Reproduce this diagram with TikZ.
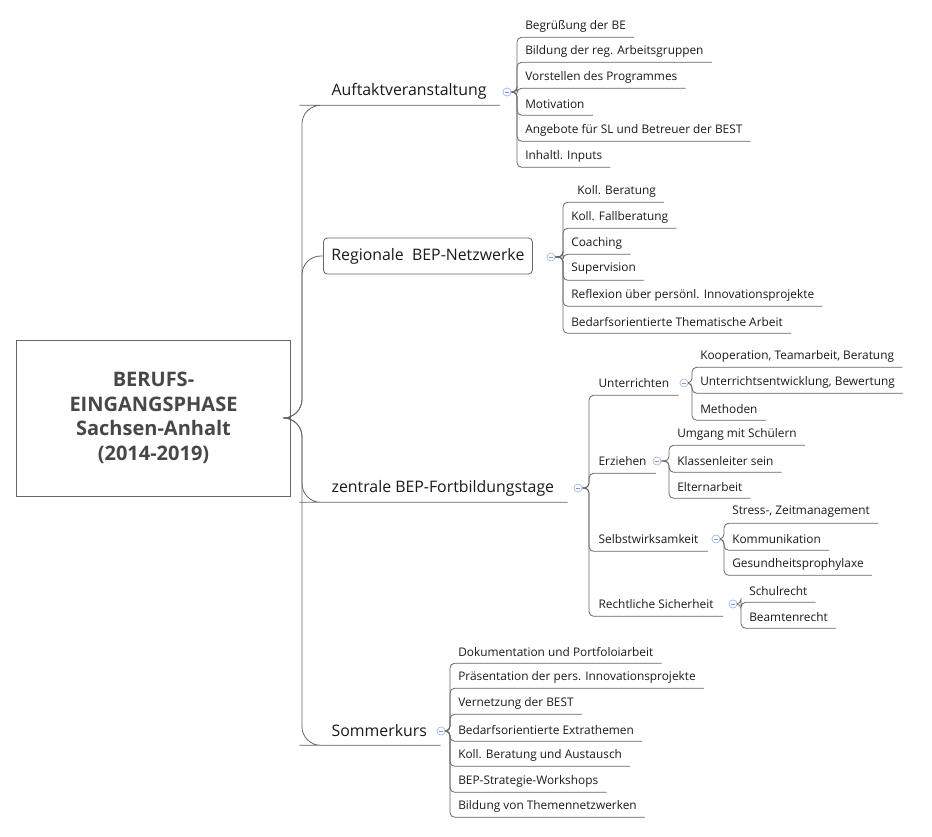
\documentclass[tikz,border=0pt]{standalone}
\usepackage{fontspec}
\setmainfont{Open Sans}
\usetikzlibrary{calc}
\definecolor{ln}{HTML}{666666}
\definecolor{tx}{HTML}{1A1A1A}
\definecolor{cb}{HTML}{9FB8DC}
\tikzset{
 kid/.style={font=\fontsize{8.9}{10}\selectfont, text=tx, inner xsep=6pt, inner ysep=0pt, minimum height=16.5pt, anchor=west},
 main/.style={font=\fontsize{11.9}{13}\selectfont, text=tx, inner xsep=10pt, inner ysep=0pt, minimum height=21pt, anchor=west},
 sub/.style={font=\fontsize{8.9}{10}\selectfont, text=tx, inner xsep=7pt, inner ysep=0pt, minimum height=18pt, anchor=west},
 coll/.style={circle, draw=cb, fill=white, inner sep=0pt, minimum size=6pt, path picture={\draw[cb!80!blue, line width=0.5pt] ($(path picture bounding box.west)+(1.5pt,0)$) -- ($(path picture bounding box.east)+(-1.5pt,0)$);}},
 con/.style={draw=ln, line width=0.6pt, rounded corners=3.5pt},
 mcon/.style={draw=ln, line width=0.6pt, rounded corners=14pt},
}
\newcommand\kid[5]{\node[kid] (#1) at (#3,#4) {#5};
 \draw[con] (#2) -| (#1.south west) -- (#1.south east);}
\newcommand\subt[5]{\node[sub] (#1) at (#3,#4) {#5};
 \draw[con] (#2) -| (#1.south west) -- (#1.south east);}
\begin{document}
\begin{tikzpicture}[x=0.75pt,y=-0.75pt]
\useasboundingbox (0,0) rectangle (932,836);
\node[draw=ln, line width=0.6pt, minimum width=205pt, minimum height=117pt, align=center, text=black!72, font=\fontsize{15}{18.5}\selectfont\bfseries] (c) at (153.5,418) {BERUFS-\\EINGANGSPHASE\\Sachsen-Anhalt\\(2014-2019)};
\coordinate (hub) at (302,418);
% main topics
\node[main] (m1) at (318,91) {Auftaktveranstaltung};
\node[draw=ln, rounded corners=3pt, line width=0.6pt, font=\fontsize{11.9}{13}\selectfont, text=tx, inner xsep=6pt, minimum height=27pt, anchor=west] (m2) at (323,256) {Regionale\ \ BEP-Netzwerke};
\node[main] (m3) at (318,488) {zentrale BEP-Fortbildungstage};
\node[main] (m4) at (318,731) {Sommerkurs};
\draw[mcon] (c.east) -- (hub) |- (m1.south west) -- (m1.south east);
\draw[mcon] (c.east) -- (hub) |- (m2.west);
\draw[mcon] (c.east) -- (hub) |- (m3.south west) -- (m3.south east);
\draw[mcon] (c.east) -- (hub) |- (m4.south west) -- (m4.south east);
% Auftakt
\node[coll] (p1) at (507,92) {};
\kid{a1}{p1}{517}{26}{Begrüßung der BE}
\kid{a2}{p1}{517}{51}{Bildung der reg. Arbeitsgruppen}
\kid{a3}{p1}{517}{77}{Vorstellen des Programmes}
\kid{a4}{p1}{517}{104}{Motivation}
\kid{a5}{p1}{517}{130}{Angebote für SL und Betreuer der BEST}
\kid{a6}{p1}{517}{156}{Inhaltl. Inputs}
\node[coll] at (507,92) {};
% Regionale
\node[coll] (p2) at (551,257) {};
\kid{b1}{p2}{563}{191}{\ \ Koll. Beratung}
\kid{b2}{p2}{563}{217}{Koll. Fallberatung}
\kid{b3}{p2}{563}{243}{Coaching}
\kid{b4}{p2}{563}{269}{Supervision}
\kid{b5}{p2}{563}{295}{Reflexion über persönl. Innovationsprojekte}
\kid{b6}{p2}{563}{322}{Bedarfsorientierte Thematische Arbeit}
\node[coll] at (551,257) {};
% Zentrale
\node[coll] (p3) at (578,488) {};
\subt{s1}{p3}{589}{383}{Unterrichten}
\subt{s2}{p3}{589}{461}{Erziehen}
\subt{s3}{p3}{589}{539}{Selbstwirksamkeit}
\subt{s4}{p3}{589}{604}{Rechtliche Sicherheit}
\node[coll] at (578,488) {};
\node[coll] (q1) at (684,383) {};
\kid{u1}{q1}{692}{356}{Kooperation, Teamarbeit, Beratung}
\kid{u2}{q1}{692}{382}{Unterrichtsentwicklung, Bewertung}
\kid{u3}{q1}{692}{409}{Methoden}
\node[coll] at (684,383) {};
\node[coll] (q2) at (657,461) {};
\kid{e1}{q2}{669}{434}{Umgang mit Schülern}
\kid{e2}{q2}{669}{461}{Klassenleiter sein}
\kid{e3}{q2}{669}{487}{Elternarbeit}
\node[coll] at (657,461) {};
\node[coll] (q3) at (716,539) {};
\kid{w1}{q3}{724}{512}{Stress-, Zeitmanagement}
\kid{w2}{q3}{724}{539}{Kommunikation}
\kid{w3}{q3}{724}{564}{Gesundheitsprophylaxe}
\node[coll] at (716,539) {};
\node[coll] (q4) at (733,604) {};
\kid{r1}{q4}{741}{591}{Schulrecht}
\kid{r2}{q4}{741}{617}{Beamtenrecht}
\node[coll] at (733,604) {};
% Sommerkurs
\node[coll] (p4) at (441,731) {};
\kid{k1}{p4}{450}{652}{Dokumentation und Portfoloiarbeit}
\kid{k2}{p4}{450}{677}{Präsentation der pers. Innovationsprojekte}
\kid{k3}{p4}{450}{703}{Vernetzung der BEST}
\kid{k4}{p4}{450}{730}{Bedarfsorientierte Extrathemen}
\kid{k5}{p4}{450}{755}{Koll. Beratung und Austausch}
\kid{k6}{p4}{450}{781}{BEP-Strategie-Workshops}
\kid{k7}{p4}{450}{806}{Bildung von Themennetzwerken}
\node[coll] at (441,731) {};
\end{tikzpicture}
\end{document}
